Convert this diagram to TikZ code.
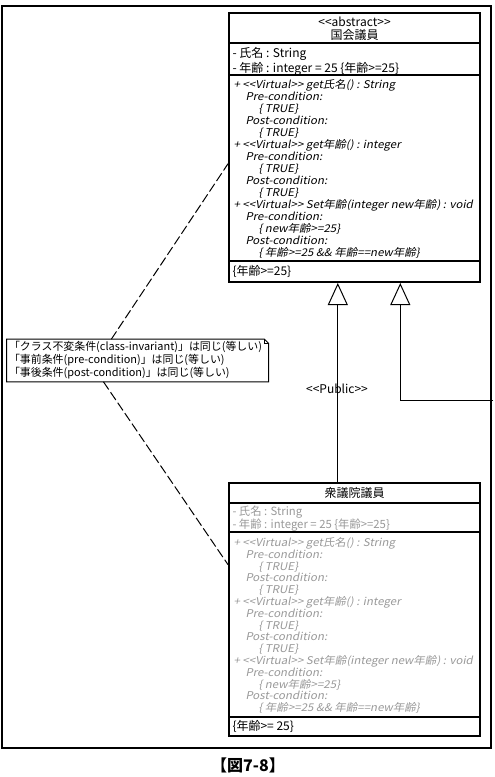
\documentclass[tikz,border=0pt]{standalone}
\usepackage{fontspec}
\setmainfont{Noto Sans CJK JP}
\newfontfamily\slfont[FakeSlant=0.2, FakeStretch=1.08]{Noto Sans CJK JP}
\usetikzlibrary{arrows.meta, calc, positioning}

\newcommand{\stl}{<\kern0pt<}
\newcommand{\stg}{>\kern0pt>}
\newcommand{\opslist}{%
+ \stl Virtual\stg\ get氏名() : String\\
\hspace*{9pt}Pre-condition:\\
\hspace*{18.75pt}\{ TRUE\}\\
\hspace*{9pt}Post-condition:\\
\hspace*{18.75pt}\{ TRUE\}\\
+ \stl Virtual\stg\ get年齢() : integer\\
\hspace*{9pt}Pre-condition:\\
\hspace*{18.75pt}\{ TRUE\}\\
\hspace*{9pt}Post-condition:\\
\hspace*{18.75pt}\{ TRUE\}\\
+ \stl Virtual\stg\ Set年齢(integer new年齢) : void\\
\hspace*{9pt}Pre-condition:\\
\hspace*{18.75pt}\{ new年齢>=25\}\\
\hspace*{9pt}Post-condition:\\
\hspace*{18.75pt}\{ 年齢>=25 \&\& 年齢==new年齢\}}

\begin{document}
\begin{tikzpicture}[x=0.75pt, y=-0.75pt, line width=0.75pt]
  % Styles
  \tikzset{classbox/.style={draw, line width=1.5pt, minimum width=188.25pt, inner sep=0pt}}
  \tikzset{compart/.style={anchor=north west, inner sep=0pt, align=left, font=\fontsize{9}{9}\selectfont}}
  \tikzset{opstext/.style={compart, font=\slfont\fontsize{8}{9}\selectfont}}
  \tikzset{ghost/.style={text=black!40}}
  \tikzset{inherit/.style={-{Triangle[open, length=16.5pt, width=15pt]}}}
  \tikzset{notelink/.style={dash pattern=on 7pt off 2.5pt}}

  \useasboundingbox (0,0) rectangle (495,777);
  \draw[line width=0.9pt] (2,6) rectangle (491,748);

  % --- Classes ---
  \node[classbox, minimum height=201.75pt] (Kokkai) at (354.5,147.5) {};
  \node[classbox, minimum height=189.75pt] (Shugiin) at (354.5,609.5) {};
  \foreach \y in {43,75,261}
    \draw[line width=1.5pt] (Kokkai.west |- 0,\y) -- (Kokkai.east |- 0,\y);
  \foreach \y in {503,532,717}
    \draw[line width=1.5pt] (Shugiin.west |- 0,\y) -- (Shugiin.east |- 0,\y);

  % 国会議員
  \node[align=center, inner sep=0pt, font=\fontsize{9}{9.75}\selectfont] (KokkaiName) at (354.5,28.5) {\stl abstract\stg\\国会議員};
  \node[compart] (KokkaiAttr) at (232,47) {- 氏名 : String\\- 年齢 : integer = 25 \{年齢>=25\}};
  \node[opstext] (KokkaiOps) at (233,79) {\opslist};
  \node[compart] (KokkaiInv) at (232,265) {\{年齢>=25\}};

  % 衆議院議員
  \node[inner sep=0pt, font=\fontsize{9}{9}\selectfont] (ShugiinName) at (354.5,493) {衆議院議員};
  \node[compart, ghost, font=\fontsize{8.5}{8}\selectfont] (ShugiinAttr) at (232,505) {- 氏名 : String\\- 年齢 : integer = 25 \{年齢>=25\}};
  \node[opstext, ghost, font=\slfont\fontsize{8}{8.85}\selectfont] (ShugiinOps) at (233,537) {\opslist};
  \node[compart] (ShugiinInv) at (232,720) {\{年齢>= 25\}};

  % --- Generalization ---
  \coordinate (GenA) at ($(Kokkai.south west)!0.434!(Kokkai.south east)$);
  \coordinate (GenB) at ($(Kokkai.south west)!0.681!(Kokkai.south east)$);
  \coordinate (OffRight) at (493,400);
  \draw[inherit] (Shugiin.north -| GenA) -- (GenA);
  \draw[inherit] (OffRight) -| (GenB);
  \node[inner sep=0pt, font=\fontsize{9}{9}\selectfont] (PublicLabel) at (337,389) {\stl Public\stg};

  % --- Note ---
  \node[minimum width=195.75pt, minimum height=24.75pt, inner sep=1.5pt, text width=192.75pt, align=left,
        font=\fontsize{8.2}{8.25}\selectfont] (Note) at (137.5,360.5)
    {「クラス不変条件(class-invariant)」は同じ(等しい)\\「事前条件(pre-condition)」は同じ(等しい)\\「事後条件(post-condition)」は同じ(等しい)};
  \draw (Note.north west) -- ([xshift=-3pt]Note.north east) -- ([yshift=-3pt]Note.north east)
    -- (Note.south east) -- (Note.south west) -- cycle;
  \draw ([xshift=-3pt]Note.north east) -- ++(0,-3pt) -- ([yshift=-3pt]Note.north east);
  \draw[notelink] ($(Note.north west)!0.40!(Note.north east)$) -- ($(Kokkai.north west)!0.56!(Kokkai.south west)$);
  \draw[notelink] ($(Note.south west)!0.37!(Note.south east)$) -- ($(Shugiin.north west)!0.324!(Shugiin.south west)$);

  % Caption
  \node[font=\bfseries\fontsize{12}{14}\selectfont] (Caption) at (248,765) {【図7-8】};
\end{tikzpicture}
\end{document}
